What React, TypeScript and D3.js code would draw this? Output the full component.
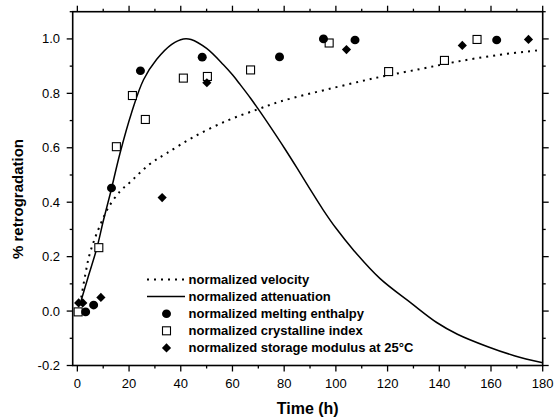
import React from "react";
import * as d3 from "d3";

const W = 554;
const H = 418;

const xTicks = [0, 20, 40, 60, 80, 100, 120, 140, 160, 180];
const yTicks = [-0.2, 0.0, 0.2, 0.4, 0.6, 0.8, 1.0];

// normalized velocity (dotted line)
const velocity: [number, number][] = [
  [1.5, 0.05], [3, 0.13], [4.5, 0.2], [6.5, 0.26], [9, 0.32], [12, 0.38], [16.5, 0.44],
  [20, 0.47], [28, 0.54], [34.6, 0.58], [45, 0.64], [58, 0.7], [69.4, 0.74], [78.5, 0.77],
  [99, 0.82], [117, 0.86], [133, 0.89], [146, 0.915], [162, 0.94], [180, 0.96],
];

// normalized attenuation (solid line)
const attenuation: [number, number][] = [
  [1.5, 0.04], [4, 0.12], [7.5, 0.23], [10, 0.33], [12.7, 0.43], [16.5, 0.58], [21, 0.73],
  [25.6, 0.85], [30.7, 0.925], [36.5, 0.98], [41, 1.0], [44, 0.998], [50, 0.965], [56.5, 0.905],
  [60, 0.868], [63, 0.832], [67, 0.782], [71, 0.728], [75, 0.672], [80, 0.6], [85, 0.525],
  [90, 0.448], [95, 0.373], [100, 0.305], [107, 0.222], [117, 0.12], [129, 0.03], [139, -0.042],
  [147, -0.085], [158.5, -0.13], [169, -0.164], [180, -0.19],
];

// normalized melting enthalpy (filled circles)
const meltingEnthalpy: [number, number][] = [
  [3.2, -0.003], [6.3, 0.022], [13.2, 0.452], [24.4, 0.883], [48.3, 0.933], [78.2, 0.934],
  [95.2, 1.0], [107.4, 0.996], [162.2, 0.996],
];

// normalized crystalline index (open squares)
const crystallineIndex: [number, number][] = [
  [0.3, -0.003], [8.3, 0.233], [15.1, 0.604], [21.3, 0.792], [26.3, 0.704], [41, 0.856],
  [50.3, 0.862], [67, 0.886], [97.4, 0.985], [120.4, 0.88], [142, 0.921], [154.6, 0.998],
];

// normalized storage modulus at 25°C (filled diamonds)
const storageModulus: [number, number][] = [
  [0.5, 0.03], [2.1, 0.03], [9.1, 0.05], [32.8, 0.417], [50.1, 0.839], [104.1, 0.961],
  [148.9, 0.976], [174.5, 0.998],
];

const legendLabels = [
  "normalized velocity",
  "normalized attenuation",
  "normalized melting enthalpy",
  "normalized crystalline index",
  "normalized storage modulus at 25°C",
];

const L = 72.7, R = 542.7, T = 11.7, B = 365.5;
const FONT = "'Liberation Sans', Arial, sans-serif";

export default function App() {
  const x = d3.scaleLinear().domain([-1.8, 180]).range([L, R]);
  const y = d3.scaleLinear().domain([-0.2, 1.1]).range([B, T]);
  const line = d3.line<[number, number]>().x((d) => x(d[0])).y((d) => y(d[1])).curve(d3.curveCatmullRom.alpha(0.5));

  const xMinor = d3.range(0, 181, 10);
  const yMinor = d3.range(-2, 12, 1).map((v) => v / 10);
  const MAJ = 6, MIN = 3;

  const diamond = (cx: number, cy: number, r: number) =>
    `M${cx},${cy - r}L${cx + r},${cy}L${cx},${cy + r}L${cx - r},${cy}Z`;

  const legendY = (i: number) => 279.5 + i * 17.1;
  const lx0 = 147, lx1 = 185, lmx = 166.5;

  return (
    <svg width={W} height={H} style={{ position: "fixed", left: 0, top: 0, background: "#fff" }} fontFamily={FONT}>
      <rect width={W} height={H} fill="#fff" />
      {/* curves */}
      <path d={line(velocity) || ""} fill="none" stroke="#000" strokeWidth={2} strokeDasharray="2,5" />
      <path d={line(attenuation) || ""} fill="none" stroke="#000" strokeWidth={1.5} />
      {/* markers */}
      {crystallineIndex.map((d, i) => (
        <rect key={"s" + i} x={x(d[0]) - 4} y={y(d[1]) - 4} width={8} height={8} fill="#fff" stroke="#000" strokeWidth={1.1} />
      ))}
      {meltingEnthalpy.map((d, i) => (
        <ellipse key={"c" + i} cx={x(d[0])} cy={y(d[1])} rx={4.5} ry={4.3} fill="#000" />
      ))}
      {storageModulus.map((d, i) => (
        <path key={"d" + i} d={diamond(x(d[0]), y(d[1]), 4.6)} fill="#000" />
      ))}
      {/* frame */}
      <rect x={L} y={T} width={R - L} height={B - T} fill="none" stroke="#000" strokeWidth={1.6} />
      {/* ticks */}
      {xMinor.map((v) => {
        const major = v % 20 === 0;
        const len = major ? MAJ : MIN;
        return (
          <g key={"xt" + v}>
            <line x1={x(v)} x2={x(v)} y1={B} y2={B + len} stroke="#000" strokeWidth={1.3} />
            <line x1={x(v)} x2={x(v)} y1={T} y2={T - len} stroke="#000" strokeWidth={1.3} />
          </g>
        );
      })}
      {yMinor.map((v) => {
        const major = Math.round(v * 10) % 2 === 0;
        const len = major ? MAJ : MIN;
        return (
          <g key={"yt" + v}>
            <line x1={L} x2={L - len} y1={y(v)} y2={y(v)} stroke="#000" strokeWidth={1.3} />
            <line x1={R} x2={R + len} y1={y(v)} y2={y(v)} stroke="#000" strokeWidth={1.3} />
          </g>
        );
      })}
      {xTicks.map((v) => (
        <text key={"xl" + v} x={x(v)} y={388} textAnchor="middle" fontSize={13} fill="#000">
          {v}
        </text>
      ))}
      {yTicks.map((v) => (
        <text key={"yl" + v} x={60} y={y(v)} dy="0.35em" textAnchor="end" fontSize={13} fill="#000">
          {d3.format(".1f")(v).replace("−", "-")}
        </text>
      ))}
      {/* axis titles */}
      <text x={(L + R) / 2} y={414} textAnchor="middle" fontSize={16} fontWeight="bold" fill="#000">
        Time (h)
      </text>
      <text transform={`translate(23,199) rotate(-90)`} textAnchor="middle" fontSize={15} fontWeight="bold" fill="#000">
        % retrogradation
      </text>
      {/* legend */}
      <line x1={lx0} x2={lx1} y1={legendY(0)} y2={legendY(0)} stroke="#000" strokeWidth={2} strokeDasharray="2,5" />
      <line x1={lx0} x2={lx1} y1={legendY(1)} y2={legendY(1)} stroke="#000" strokeWidth={1.5} />
      <ellipse cx={lmx} cy={legendY(2)} rx={4.5} ry={4.3} fill="#000" />
      <rect x={lmx - 4} y={legendY(3) - 4} width={8} height={8} fill="#fff" stroke="#000" strokeWidth={1.1} />
      <path d={diamond(lmx, legendY(4), 4.6)} fill="#000" />
      {legendLabels.map((t, i) => (
        <text key={"lg" + i} x={188.5} y={legendY(i)} dy="0.35em" fontSize={13} fontWeight="bold" fill="#000">
          {t}
        </text>
      ))}
    </svg>
  );
}
